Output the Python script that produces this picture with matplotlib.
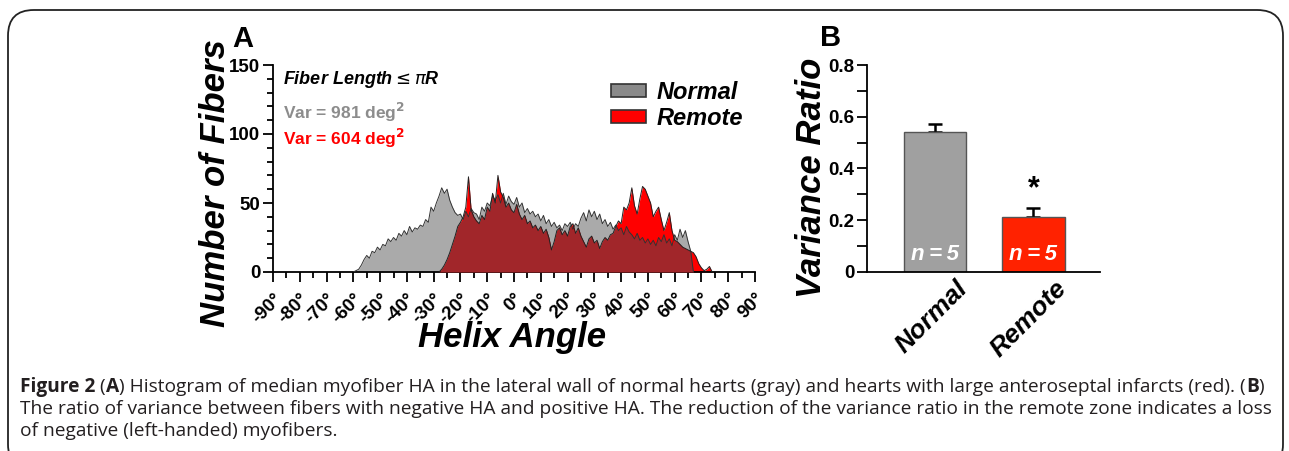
import numpy as np
import matplotlib
matplotlib.use('Agg')
import matplotlib.pyplot as plt
from matplotlib.patches import Patch, FancyBboxPatch
from matplotlib import font_manager

W, H = 1289, 451

# Panel A: histogram of helix angle (1 degree bins)
normal_start = -60
normal_counts = [0, 1, 2, 5, 9, 12, 10, 15, 14, 18, 16, 20, 19, 24, 22, 25, 23, 28, 26, 30,
                 27, 33, 29, 32, 31, 34, 33, 38, 36, 47, 44, 50, 55, 61, 57, 60, 52, 47, 43, 41,
                 42, 38, 44, 40, 46, 43, 42, 38, 47, 44, 50, 48, 55, 52, 56, 50, 57, 49, 55, 51,
                 49, 54, 47, 50, 43, 46, 42, 44, 40, 42, 37, 41, 35, 38, 33, 36, 32, 34, 30, 35,
                 33, 36, 31, 35, 33, 39, 43, 37, 45, 40, 44, 38, 42, 35, 38, 33, 36, 31, 34, 30,
                 32, 27, 33, 29, 27, 24, 28, 23, 25, 21, 24, 20, 23, 19, 25, 22, 27, 21, 24, 19,
                 27, 23, 31, 25, 30, 22, 15, 0]
remote_start = -28
remote_counts = [0, 2, 5, 9, 14, 20, 26, 33, 36, 40, 47, 69, 45, 40, 37, 35, 41, 38, 47, 44,
                 57, 50, 70, 58, 54, 47, 50, 45, 43, 49, 42, 38, 41, 35, 37, 32, 34, 30, 33, 28,
                 31, 25, 16, 22, 30, 32, 27, 30, 26, 33, 35, 28, 32, 26, 22, 18, 24, 26, 21, 23,
                 17, 22, 25, 23, 27, 28, 33, 37, 35, 47, 45, 50, 61, 48, 42, 53, 62, 60, 55, 50,
                 40, 44, 47, 38, 30, 36, 43, 30, 23, 22, 20, 18, 17, 16, 15, 14, 11, 6, 3, 1,
                 2, 4, 0]
angle_ticks = list(range(-90, 91, 10))

# Panel B: variance ratio
groups = ['Normal', 'Remote']
ratio_mean = [0.542, 0.214]
ratio_sem = [0.030, 0.034]
group_n = [5, 5]

# --- fonts
avail = {f.name for f in font_manager.fontManager.ttflist}
sans = 'Liberation Sans' if 'Liberation Sans' in avail else 'DejaVu Sans'
cap_font = 'Liberation Sans Narrow' if 'Liberation Sans Narrow' in avail else 'Open Sans'
plt.rcParams['font.family'] = sans

fig = plt.figure(figsize=(W / 100, H / 100), dpi=100)


def fx(x):
    return x / W


def fy(y):
    return 1 - y / H


# caption frame (rounded, open at the bottom)
fig.patches.append(FancyBboxPatch((fx(8), fy(470)), fx(1275), 460 / H,
                                  boxstyle='round,pad=0,rounding_size=0.02',
                                  transform=fig.transFigure, fill=False,
                                  edgecolor='#222222', linewidth=1.3,
                                  mutation_aspect=W / H))

# ---------------- panel A
axA = fig.add_axes([fx(273), fy(272), fx(482), 207 / H])
ang_n = np.arange(normal_start, normal_start + len(normal_counts))
ang_r = np.arange(remote_start, remote_start + len(remote_counts))
grid = np.arange(-90, 91)
n_full = np.interp(grid, ang_n, normal_counts, left=0, right=0)
r_full = np.interp(grid, ang_r, remote_counts, left=0, right=0)
both = np.minimum(n_full, r_full)

axA.fill_between(grid, 0, n_full, color='#aaaaaa', lw=0, zorder=1)
axA.fill_between(grid, 0, r_full, color='#ff0000', lw=0, zorder=2)
axA.fill_between(grid, 0, both, color='#a1262a', lw=0, zorder=3)
axA.plot(ang_n, normal_counts, color='#333333', lw=0.7, zorder=4)
axA.plot(ang_r, remote_counts, color='#222222', lw=0.7, zorder=4)

axA.set_xlim(-90, 90)
axA.set_ylim(0, 150)
axA.set_xticks(angle_ticks)
axA.set_xticks(list(range(-85, 90, 10)), minor=True)
axA.set_xticklabels([f'{a}\u00b0' for a in angle_ticks], rotation=45,
                    ha='right', va='top', rotation_mode='anchor',
                    fontsize=13.5, fontweight='bold')
axA.set_yticks([0, 50, 100, 150])
axA.set_yticks(list(range(10, 150, 10)), minor=True)
axA.set_yticklabels(['0', '50', '100', '150'], fontsize=13.5, fontweight='bold')
for s in ['top', 'right']:
    axA.spines[s].set_visible(False)
for s in ['left', 'bottom']:
    axA.spines[s].set_linewidth(1.3)
axA.tick_params(which='major', length=7, width=1.3, pad=2)
axA.tick_params(which='minor', length=4, width=1.3)
axA.tick_params(axis='x', which='major', pad=6)
axA.set_ylabel('Number of Fibers', fontsize=25, fontweight='bold', style='italic')
axA.yaxis.set_label_coords((232 - 273) / 482, (272 - 183) / 207)
axA.set_xlabel('Helix Angle', fontsize=25, fontweight='bold', style='italic')
axA.xaxis.set_label_coords((512 - 273) / 482, -(338 - 272) / 207)
axA.xaxis.label.set_va('center')

fig.text(fx(232), fy(39), 'A', fontsize=21, fontweight='bold', va='center')
fig.text(fx(283), fy(80), r'Fiber Length$\leq\pi$R', fontsize=13, fontweight='bold',
         style='italic', va='center', color='black')
fig.text(fx(283), fy(112), r'Var = 981 deg$^{\mathbf{2}}$', fontsize=12.5,
         fontweight='bold', va='center', color='#8c8c8c')
fig.text(fx(283), fy(138), r'Var = 604 deg$^{\mathbf{2}}$', fontsize=12.5,
         fontweight='bold', va='center', color='#ff0000')

leg = axA.legend(handles=[Patch(facecolor='#8a8a8a', edgecolor='#333333', lw=1.2, label='Normal'),
                          Patch(facecolor='#ff0000', edgecolor='#333333', lw=1.2, label='Remote')],
                 loc='upper left', bbox_to_anchor=(fx(611), fy(81)),
                 bbox_transform=fig.transFigure, frameon=False, borderpad=0,
                 handlelength=1.5, handleheight=0.5, handletextpad=0.45,
                 labelspacing=0.12, borderaxespad=0,
                 prop={'family': sans, 'weight': 'bold', 'style': 'italic', 'size': 17})

# ---------------- panel B
axB = fig.add_axes([fx(867), fy(272), fx(233), 207 / H])
xpos = np.arange(len(groups))
axB.errorbar(xpos, ratio_mean, yerr=[[0] * len(groups), ratio_sem], fmt='none',
             ecolor='black', elinewidth=1.8, capsize=5, capthick=1.8, zorder=1)
axB.bar(xpos, ratio_mean, width=0.63, color=['#a0a0a0', '#ff2200'],
        edgecolor='#555555', linewidth=1.0, zorder=2)
for xi, n in zip(xpos, group_n):
    axB.text(xi, 0.066, f'n\u2009=\u2009{n}', color='white', fontsize=16,
             fontweight='bold', style='italic', ha='center', va='center', zorder=3)
axB.text(xpos[1], ratio_mean[1] + ratio_sem[1] + 0.07, '*', fontsize=22,
         fontweight='bold', ha='center', va='center')

axB.set_xlim(-0.69, 1.675)
axB.set_ylim(0, 0.8)
axB.set_yticks([0, 0.2, 0.4, 0.6, 0.8])
axB.set_yticklabels(['0', '0.2', '0.4', '0.6', '0.8'], fontsize=13.5, fontweight='bold')
axB.set_yticks([0.1, 0.3, 0.5, 0.7], minor=True)
axB.set_xticks(xpos)
axB.set_xticklabels([])
axB.tick_params(axis='x', length=0)
# category labels, rotated, placed a little to the right of each bar
for xi, g in zip(xpos, groups):
    axB.annotate(g, xy=(xi, 0), xycoords=('data', 'axes fraction'),
                 xytext=(15, -3), textcoords='offset points', rotation=45,
                 ha='right', va='top', rotation_mode='anchor',
                 fontsize=19, fontweight='bold', style='italic')
axB.tick_params(axis='y', which='major', length=7, width=1.3, pad=2)
axB.tick_params(axis='y', which='minor', length=7, width=1.3)
for s in ['top', 'right']:
    axB.spines[s].set_visible(False)
for s in ['left', 'bottom']:
    axB.spines[s].set_linewidth(1.3)
axB.set_ylabel('Variance Ratio', fontsize=25, fontweight='bold', style='italic')
axB.yaxis.set_label_coords((828 - 867) / 233, (272 - 178) / 207)

fig.text(fx(820), fy(38), 'B', fontsize=21, fontweight='bold', va='center')

# ---------------- caption with mixed bold runs
renderer = fig.canvas.get_renderer()
cap_color = '#231f20'
cap_size = 13.8


def draw_runs(x, y, runs):
    for txt, bold in runs:
        t = fig.text(fx(x), fy(y), txt, fontsize=cap_size, family=cap_font,
                     fontweight='bold' if bold else 'normal', color=cap_color,
                     va='center', ha='left')
        x += t.get_window_extent(renderer).width


draw_runs(20, 387, [('Figure 2', True), (' (', False), ('A', True),
                    (') Histogram of median myofiber HA in the lateral wall of normal hearts (gray) '
                     'and hearts with large anteroseptal infarcts (red). (', False),
                    ('B', True), (')', False)])
draw_runs(20, 409, [('The ratio of variance between fibers with negative HA and positive HA. '
                     'The reduction of the variance ratio in the remote zone indicates a loss', False)])
draw_runs(20, 431, [('of negative (left-handed) myofibers.', False)])

fig.savefig('out.png', dpi=100)
